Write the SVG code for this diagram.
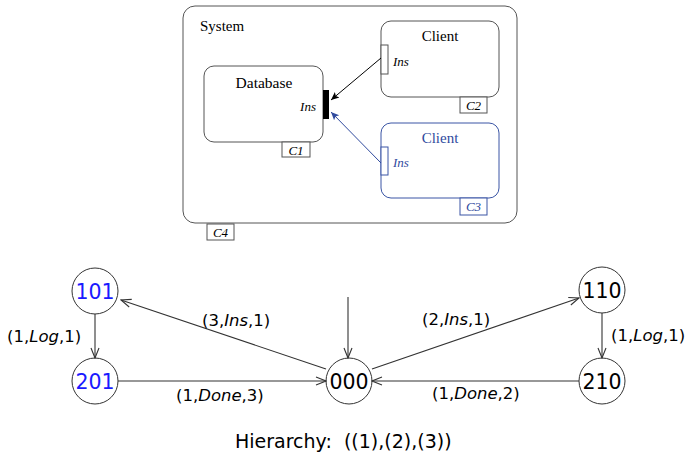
<svg xmlns="http://www.w3.org/2000/svg" width="695" height="457" viewBox="0 0 695 457">
<style>
.box{fill:#fff;stroke:#555;stroke-width:1}
.bbox{fill:#fff;stroke:#3a55a5;stroke-width:1}
.serif{font-family:"Liberation Serif","Times New Roman",serif;font-size:15px;fill:#000}
.it{font-family:"Liberation Serif","Times New Roman",serif;font-style:italic;font-size:13px;fill:#000}
.blue{fill:#2f4a9e}
.node{fill:#fff;stroke:#333;stroke-width:1}
.nl{font-family:"DejaVu Sans","Liberation Sans",sans-serif;font-size:20.5px;text-anchor:middle}
.el{font-family:"DejaVu Sans","Liberation Sans",sans-serif;font-size:16.5px;fill:#000}
.edge{stroke:#333;stroke-width:1.1;fill:none;marker-end:url(#ah)}
</style>
<defs>
<marker id="ah" viewBox="0 0 12 10" refX="11" refY="5" markerWidth="12" markerHeight="10" markerUnits="userSpaceOnUse" orient="auto">
<path d="M1,1 L11,5 L1,9" fill="none" stroke="#333" stroke-width="1.1"/>
</marker>
<marker id="ahs" viewBox="0 0 10 10" refX="9" refY="5" markerWidth="9" markerHeight="9" markerUnits="userSpaceOnUse" orient="auto">
<path d="M0,1 L9,5 L0,9 L2,5 Z" fill="#000"/>
</marker>
<marker id="ahb" viewBox="0 0 10 10" refX="9" refY="5" markerWidth="9" markerHeight="9" markerUnits="userSpaceOnUse" orient="auto">
<path d="M0,1 L9,5 L0,9 L2,5 Z" fill="#2f4a9e"/>
</marker>
</defs>

<g id="system">
<rect class="box" x="183" y="6" width="334" height="217" rx="12"/>
<text class="serif" x="200" y="31">System</text>
<rect class="box" x="207" y="224" width="27" height="16"/>
<text class="it" x="220.5" y="236.5" text-anchor="middle">C4</text>
</g>
<g id="database">
<rect class="box" x="204" y="66" width="119" height="76" rx="10"/>
<text class="serif" x="264" y="88" text-anchor="middle" style="font-size:15.5px">Database</text>
<text class="it" x="316" y="111" text-anchor="end">Ins</text>
<rect x="323" y="90" width="6" height="29" fill="#000"/>
<rect class="box" x="282" y="142" width="28" height="15"/>
<text class="it" x="296" y="154.5" text-anchor="middle">C1</text>
</g>
<g id="client1">
<rect class="box" x="381" y="21" width="118" height="76" rx="10"/>
<text class="serif" x="440" y="41" text-anchor="middle">Client</text>
<rect class="box" x="381" y="45" width="7" height="29"/>
<text class="it" x="393" y="66">Ins</text>
<rect class="box" x="460" y="97" width="27" height="16"/>
<text class="it" x="473.5" y="109.5" text-anchor="middle">C2</text>
</g>
<g id="client2">
<rect class="bbox" x="381" y="123" width="118" height="75" rx="10"/>
<text class="serif blue" x="440" y="143" text-anchor="middle">Client</text>
<rect class="bbox" x="381" y="147" width="7" height="28"/>
<text class="it blue" x="393" y="167">Ins</text>
<rect class="bbox" x="460" y="198" width="27" height="17"/>
<text class="it blue" x="473.5" y="211" text-anchor="middle">C3</text>
</g>
<g id="top-connectors">
<line x1="381" y1="58" x2="331" y2="100" stroke="#000" stroke-width="1" marker-end="url(#ahs)"/>
<line x1="381" y1="163" x2="331" y2="112" stroke="#2f4a9e" stroke-width="1" marker-end="url(#ahb)"/>
</g>

<g id="n101"><circle class="node" cx="95" cy="291" r="23"/><text class="nl" x="95" y="298.5" fill="#1a1aff">101</text></g>
<g id="n201"><circle class="node" cx="95" cy="381" r="23"/><text class="nl" x="95" y="388.5" fill="#1a1aff">201</text></g>
<g id="n000"><circle class="node" cx="349" cy="381" r="23"/><text class="nl" x="349" y="388.5" fill="#000">000</text></g>
<g id="n110"><circle class="node" cx="602" cy="290" r="23"/><text class="nl" x="602" y="297.5" fill="#000">110</text></g>
<g id="n210"><circle class="node" cx="602" cy="381" r="23"/><text class="nl" x="602" y="388.5" fill="#000">210</text></g>

<g id="connectors">
<line class="edge" x1="95" y1="314" x2="95" y2="358"/>
<line class="edge" x1="118" y1="381" x2="326" y2="381"/>
<line class="edge" x1="326" y1="369" x2="121" y2="300"/>
<line class="edge" x1="348" y1="297" x2="348" y2="358"/>
<line class="edge" x1="372" y1="369" x2="579" y2="298"/>
<line class="edge" x1="602" y1="313" x2="602" y2="358"/>
<line class="edge" x1="579" y1="381" x2="372" y2="381"/>
</g>
<g id="edge-labels">
<text class="el" x="7" y="342">(1,<tspan font-style="italic">Log</tspan>,1)</text>
<text class="el" x="202" y="326">(3,<tspan font-style="italic">Ins</tspan>,1)</text>
<text class="el" x="176" y="401">(1,<tspan font-style="italic">Done</tspan>,3)</text>
<text class="el" x="422" y="325">(2,<tspan font-style="italic">Ins</tspan>,1)</text>
<text class="el" x="611" y="341">(1,<tspan font-style="italic">Log</tspan>,1)</text>
<text class="el" x="432" y="399">(1,<tspan font-style="italic">Done</tspan>,2)</text>
</g>
<text class="el" x="235" y="448" style="font-size:19px;white-space:pre">Hierarchy:  ((1),(2),(3))</text>
</svg>
